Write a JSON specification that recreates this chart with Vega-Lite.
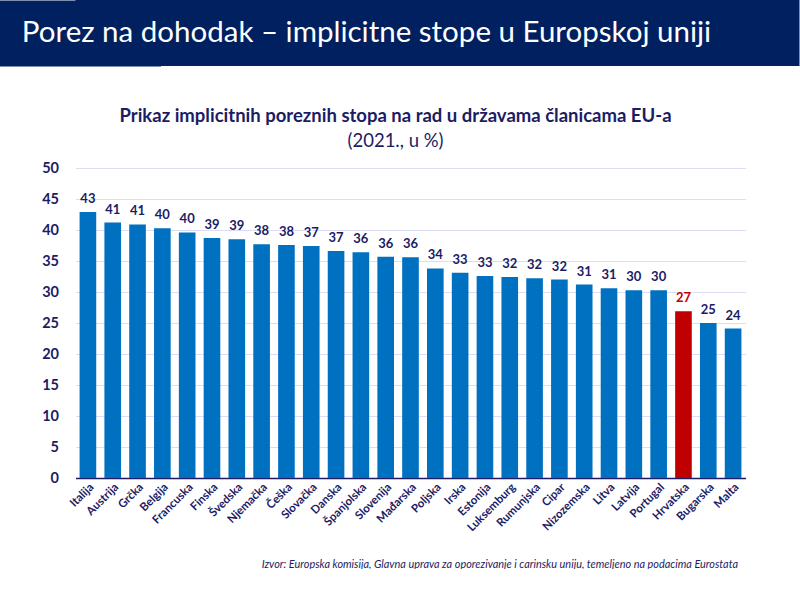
{
  "$schema": "https://vega.github.io/schema/vega-lite/v6.json",
  "background": "white",
  "padding": {"left": 21.5, "top": 0, "right": 0, "bottom": 0},
  "spacing": 41,
  "config": {"view": {"stroke": null}},
  "vconcat": [
    {
      "width": 724,
      "height": 66,
      "view": {"fill": "#002060", "stroke": null},
      "data": {"values": [{"header": "Porez na dohodak – implicitne stope u Europskoj uniji"}]},
      "mark": {"type": "text", "color": "white", "font": "Lato", "fontSize": 29.5, "align": "center", "baseline": "middle", "dx": -71},
      "encoding": {
        "text": {"field": "header"},
        "y": {
          "field": "header",
          "type": "nominal",
          "scale": {"paddingInner": 0, "paddingOuter": 0},
          "axis": {"title": null, "labels": false, "ticks": false, "grid": false, "domainColor": "#002060", "domainWidth": 170}
        }
      }
    },
    {
      "width": 670,
      "height": 310,
      "title": {
        "text": "Prikaz implicitnih poreznih stopa na rad u državama članicama EU-a",
        "subtitle": "(2021., u %)",
        "anchor": "middle",
        "dx": -15,
        "font": "Lato",
        "fontSize": 18.5,
        "fontWeight": "bold",
        "color": "#1c1c64",
        "subtitleFont": "Lato",
        "subtitleFontSize": 18.5,
        "subtitleColor": "#1c1c64",
        "subtitlePadding": 6,
        "offset": 10
      },
      "data": {
        "values": [
          {"country": "Italija", "value": 42.9},
          {"country": "Austrija", "value": 41.2},
          {"country": "Grčka", "value": 40.9},
          {"country": "Belgija", "value": 40.3},
          {"country": "Francuska", "value": 39.6},
          {"country": "Finska", "value": 38.7},
          {"country": "Švedska", "value": 38.5},
          {"country": "Njemačka", "value": 37.7},
          {"country": "Češka", "value": 37.6},
          {"country": "Slovačka", "value": 37.4},
          {"country": "Danska", "value": 36.6},
          {"country": "Španjolska", "value": 36.4},
          {"country": "Slovenija", "value": 35.7},
          {"country": "Mađarska", "value": 35.6},
          {"country": "Poljska", "value": 33.8},
          {"country": "Irska", "value": 33.1},
          {"country": "Estonija", "value": 32.6},
          {"country": "Luksemburg", "value": 32.4},
          {"country": "Rumunjska", "value": 32.2},
          {"country": "Cipar", "value": 32.0},
          {"country": "Nizozemska", "value": 31.2},
          {"country": "Litva", "value": 30.6},
          {"country": "Latvija", "value": 30.3},
          {"country": "Portugal", "value": 30.3},
          {"country": "Hrvatska", "value": 26.9},
          {"country": "Bugarska", "value": 25.0},
          {"country": "Malta", "value": 24.1}
        ]
      },
      "encoding": {
        "x": {
          "field": "country",
          "type": "nominal",
          "sort": null,
          "scale": {"paddingInner": 0.33, "paddingOuter": 0.165},
          "axis": {
            "title": "Izvor: Europska komisija, Glavna uprava za oporezivanje i carinsku uniju, temeljeno na podacima Eurostata",
            "titleFont": "Lato",
            "titleFontStyle": "italic",
            "titleFontWeight": "normal",
            "titleFontSize": 10.9,
            "titleColor": "#1c1c64",
            "titleAlign": "right",
            "titleAnchor": "end",
            "titleX": 662,
            "titleY": 86,
            "titleBaseline": "middle",
            "labelAngle": -45,
            "labelFont": "Lato",
            "labelFontWeight": "bold",
            "labelFontSize": 11.5,
            "labelColor": "#1c1c64",
            "labelPadding": 3,
            "ticks": false,
            "grid": false,
            "domainColor": "#1c1c64",
            "domainWidth": 1.5
          }
        },
        "y": {
          "field": "value",
          "type": "quantitative",
          "scale": {"domain": [0, 50], "nice": false},
          "axis": {
            "title": null,
            "values": [0, 5, 10, 15, 20, 25, 30, 35, 40, 45, 50],
            "domain": false,
            "ticks": false,
            "labelPadding": 17,
            "labelFont": "Lato",
            "labelFontWeight": "bold",
            "labelFontSize": 14.5,
            "labelColor": "#1c1c64",
            "gridColor": "#dcdcf4",
            "gridWidth": 1
          }
        }
      },
      "layer": [
        {
          "mark": {"type": "bar"},
          "encoding": {
            "color": {
              "condition": {"test": "datum.country === 'Hrvatska'", "value": "#c00000"},
              "value": "#0070c0"
            }
          }
        },
        {
          "mark": {"type": "text", "font": "Lato", "fontWeight": "bold", "fontSize": 13, "baseline": "bottom", "dy": -6},
          "encoding": {
            "text": {"field": "value", "type": "quantitative", "format": ".0f"},
            "color": {
              "condition": {"test": "datum.country === 'Hrvatska'", "value": "#c00000"},
              "value": "#1c1c64"
            }
          }
        }
      ]
    }
  ]
}
